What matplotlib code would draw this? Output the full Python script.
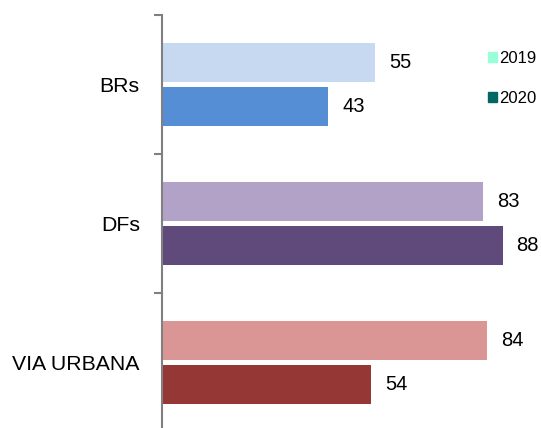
import matplotlib.pyplot as plt
from matplotlib.patches import Patch
import numpy as np

plt.rcParams['font.family'] = ['Liberation Sans', 'DejaVu Sans']

categories = ['BRs', 'DFs', 'VIA URBANA']
values_2019 = [55, 83, 84]
values_2020 = [43, 88, 54]
colors_2019 = ['#C6D9F1', '#B3A2C7', '#D99694']
colors_2020 = ['#558ED5', '#604A7B', '#953735']
legend_labels = ['2019', '2020']
legend_colors = ['#99FFD6', '#006666']

fig = plt.figure(figsize=(5.41, 4.28), dpi=100)
ax = fig.add_axes([162 / 541, 1 - 432 / 428, 379 / 541, 417 / 428])

y = np.arange(len(categories))
h = 0.28
off = 0.155
ax.barh(y - off, values_2019, height=h, color=colors_2019)
ax.barh(y + off, values_2020, height=h, color=colors_2020)

for yi, v in zip(y - off, values_2019):
    ax.text(v + 3.6, yi, str(v), va='center', ha='left', fontsize=14.5)
for yi, v in zip(y + off, values_2020):
    ax.text(v + 3.6, yi, str(v), va='center', ha='left', fontsize=14.5)

ax.set_xlim(0, 379 / 3.87)
ax.set_ylim(2.5, -0.5)
ax.set_yticks(y)
ax.set_yticklabels(categories, fontsize=15.3)
ax.tick_params(axis='y', which='major', length=0, pad=16)
ax.set_yticks([-0.5, 0.5, 1.5, 2.5], minor=True)
ax.tick_params(axis='y', which='minor', length=6, width=1.5, color='#808080')
ax.set_xticks([])
for s in ['top', 'right', 'bottom']:
    ax.spines[s].set_visible(False)
ax.spines['left'].set_color('#808080')
ax.spines['left'].set_linewidth(1.5)

handles = [Patch(color=c, label=l) for c, l in zip(legend_colors, legend_labels)]
fig.legend(handles=handles, loc='upper left', bbox_to_anchor=(488 / 541, 1 - 51 / 428),
           frameon=False, fontsize=12, handlelength=0.55, handleheight=0.55,
           handletextpad=0.1, labelspacing=1.48, borderpad=0, borderaxespad=0)

fig.savefig('out.png', dpi=100)
